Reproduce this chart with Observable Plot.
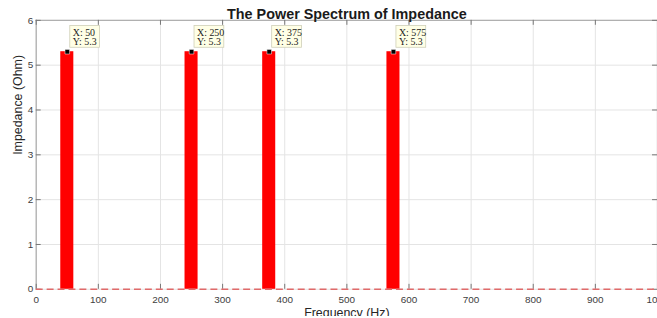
<!DOCTYPE html>
<html>
<head>
<meta charset="utf-8">
<script src="https://cdn.jsdelivr.net/npm/d3@7"></script>
<script src="https://cdn.jsdelivr.net/npm/@observablehq/plot@0.6"></script>
<style>
  html, body { margin: 0; padding: 0; background: #fff; }
  #wrap { width: 657px; height: 318px; overflow: hidden; position: relative; }
</style>
</head>
<body>
<div id="wrap"></div>
<script>
// Data
const freqs = [50, 250, 375, 575];
const impedance = [5.3, 5.3, 5.3, 5.3];
const xTicks = [0, 100, 200, 300, 400, 500, 600, 700, 800, 900, 1000];
const yTicks = [0, 1, 2, 3, 4, 5, 6];
const titleText = "The Power Spectrum of Impedance";
const xLabel = "Frequency (Hz)";
const yLabel = "Impedance (Ohm)";
const barHalf = 10.5;

const data = freqs.map((f, i) => ({
  f, v: impedance[i], xl: `X: ${f}`, yl: `Y: ${impedance[i]}`
}));

const gridColor = "#e4e4e4";
const axisColor = "#b0b0b0";
const textColor = "#404040";

const chart = Plot.plot({
  width: 662,
  height: 318,
  marginLeft: 36,
  marginRight: 0,
  marginTop: 20,
  marginBottom: 27,
  style: { fontFamily: "Liberation Sans, Arial, sans-serif", fontSize: "10px", color: textColor, background: "#fff" },
  x: { domain: [0, 1000] },
  y: { domain: [0, 6] },
  marks: [
    Plot.gridX(xTicks, { stroke: gridColor, strokeOpacity: 1 }),
    Plot.gridY(yTicks, { stroke: gridColor, strokeOpacity: 1 }),
    // frame top & left & right
    Plot.ruleY([6], { stroke: axisColor, strokeWidth: 1.3 }),
    Plot.ruleX([0], { stroke: axisColor, strokeWidth: 1.3 }),
    Plot.ruleX([1000], { stroke: axisColor, strokeWidth: 1.3 }),
    // inward ticks
    Plot.ruleX(xTicks, { y1: 0, y2: 0, insetTop: -5, stroke: "#777" }),
    Plot.ruleX(xTicks, { y1: 6, y2: 6, insetBottom: -5, stroke: "#777" }),
    Plot.ruleY(yTicks, { x1: 0, x2: 0, insetRight: -5, stroke: "#777" }),
    Plot.ruleY(yTicks, { x1: 1000, x2: 1000, insetLeft: -5, stroke: "#777" }),
    // bars
    Plot.rectY(data, { x1: d => d.f - barHalf, x2: d => d.f + barHalf, y1: 0, y2: "v", fill: "#ff0000" }),
    // dashed baseline
    Plot.ruleY([0], { stroke: "#e06a6a", strokeWidth: 1.6, strokeDasharray: "7,4" }),
    // axes
    Plot.axisX(xTicks, { tickSize: 0, tickPadding: 7, label: null, fill: textColor, tickFormat: d => String(d) }),
    Plot.axisY(yTicks, { tickSize: 0, tickPadding: 3, label: null, fill: textColor, tickFormat: d => String(d) }),
    // data tips
    Plot.rect(data, { x1: "f", x2: "f", y1: "v", y2: "v", insetLeft: 3, insetRight: -33, insetTop: -26, insetBottom: 4, fill: "#ffffe6", stroke: "#cfcfb8", strokeWidth: 0.8 }),
    Plot.text(data, { x: "f", y: "v", text: "xl", dx: 5.5, dy: -19, textAnchor: "start", fontFamily: "Liberation Serif, serif", fontSize: 10, fill: "#222" }),
    Plot.text(data, { x: "f", y: "v", text: "yl", dx: 5.5, dy: -9.5, textAnchor: "start", fontFamily: "Liberation Serif, serif", fontSize: 10, fill: "#222" }),
    Plot.dot(data, { x: "f", y: "v", symbol: "square", r: 2.6, fill: "#000", stroke: "#fff", strokeWidth: 0.5 }),
    // labels
    Plot.text([titleText], { frameAnchor: "top", dy: -12, fontWeight: "bold", fontSize: 14.5, fill: "#1a1a1a" }),
    Plot.text([yLabel], { frameAnchor: "left", dx: -18, rotate: -90, fontSize: 12.5, fill: "#262626" }),
    Plot.text([xLabel], { frameAnchor: "bottom", dy: 28, fontSize: 12.5, fill: "#262626" })
  ]
});

document.getElementById("wrap").appendChild(chart);
</script>
</body>
</html>
